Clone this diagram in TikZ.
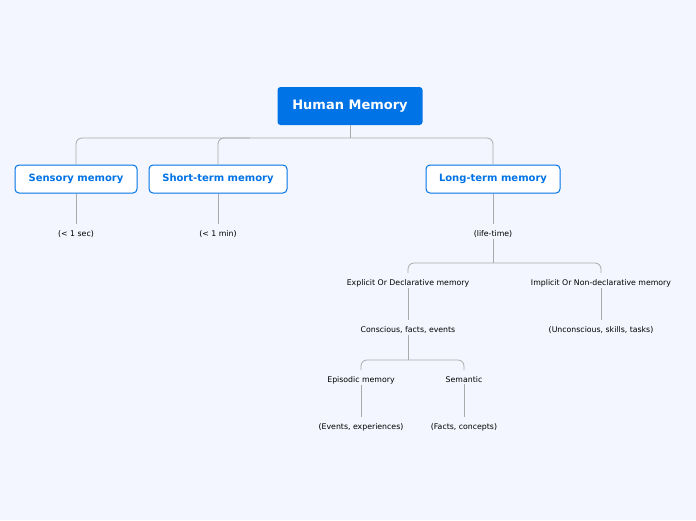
\documentclass[tikz,border=0pt]{standalone}
\usepackage{fontspec}
\setmainfont{DejaVu Sans}
\definecolor{bg}{HTML}{F3F6FE}
\definecolor{mblue}{HTML}{0073E6}
\definecolor{ln}{HTML}{AAAAAA}
\begin{document}
\begin{tikzpicture}[x=1pt,y=-1pt,
 root/.style={fill=mblue,text=white,rounded corners=3pt,minimum width=145pt,minimum height=38pt,font=\bfseries\fontsize{13}{15}\selectfont},
 lvl/.style={draw=mblue,line width=1pt,fill=white,text=mblue,rounded corners=4pt,minimum height=28pt,font=\bfseries\fontsize{10}{12}\selectfont},
 txt/.style={font=\fontsize{7.8}{9}\selectfont,text=black,inner sep=1pt},
 con/.style={draw=ln,line width=0.8pt},
 bus/.style={draw=ln,line width=0.8pt,rounded corners=6pt}]
\fill[bg] (0,0) rectangle (696,520);
\node[root] (hm) at (350,106) {Human Memory};
\node[lvl,minimum width=122pt] (sm) at (76,179) {Sensory memory};
\node[lvl,minimum width=138pt] (st) at (218,179) {Short-term memory};
\node[lvl,minimum width=134pt] (lt) at (493,179) {Long-term memory};
\draw[bus] (sm.north) -- (76,138) -- (493,138) -- (lt.north);
\draw[bus] (st.north) -- (218,138) -- (250,138);
\draw[con] (hm.south) -- (350,138);
\node[txt] (s1) at (76,234) {(< 1 sec)};
\node[txt] (s2) at (218,234) {(< 1 min)};
\node[txt] (s3) at (493,234) {(life-time)};
\draw[con] (sm.south) -- (76,224);
\draw[con] (st.south) -- (218,224);
\draw[con] (lt.south) -- (493,224);
\node[txt] (ex) at (408,283) {Explicit Or Declarative memory};
\node[txt] (im) at (601,283) {Implicit Or Non-declarative memory};
\draw[con] (s3.south) -- (493,263);
\draw[bus] (408,273) -- (408,263) -- (601,263) -- (601,273);
\node[txt] (co) at (408,330) {Conscious, facts, events};
\node[txt] (un) at (601,330) {(Unconscious, skills, tasks)};
\draw[con] (ex.south) -- (408,320);
\draw[con] (im.south) -- (601,320);
\node[txt] (ep) at (361,380) {Episodic memory};
\node[txt] (se) at (464,380) {Semantic};
\draw[con] (co.south) -- (408,360);
\draw[bus] (361,370) -- (361,360) -- (464,360) -- (464,370);
\node[txt] (ev) at (361,427) {(Events, experiences)};
\node[txt] (fc) at (464,427) {(Facts, concepts)};
\draw[con] (ep.south) -- (361,417);
\draw[con] (se.south) -- (464,417);
\end{tikzpicture}
\end{document}
